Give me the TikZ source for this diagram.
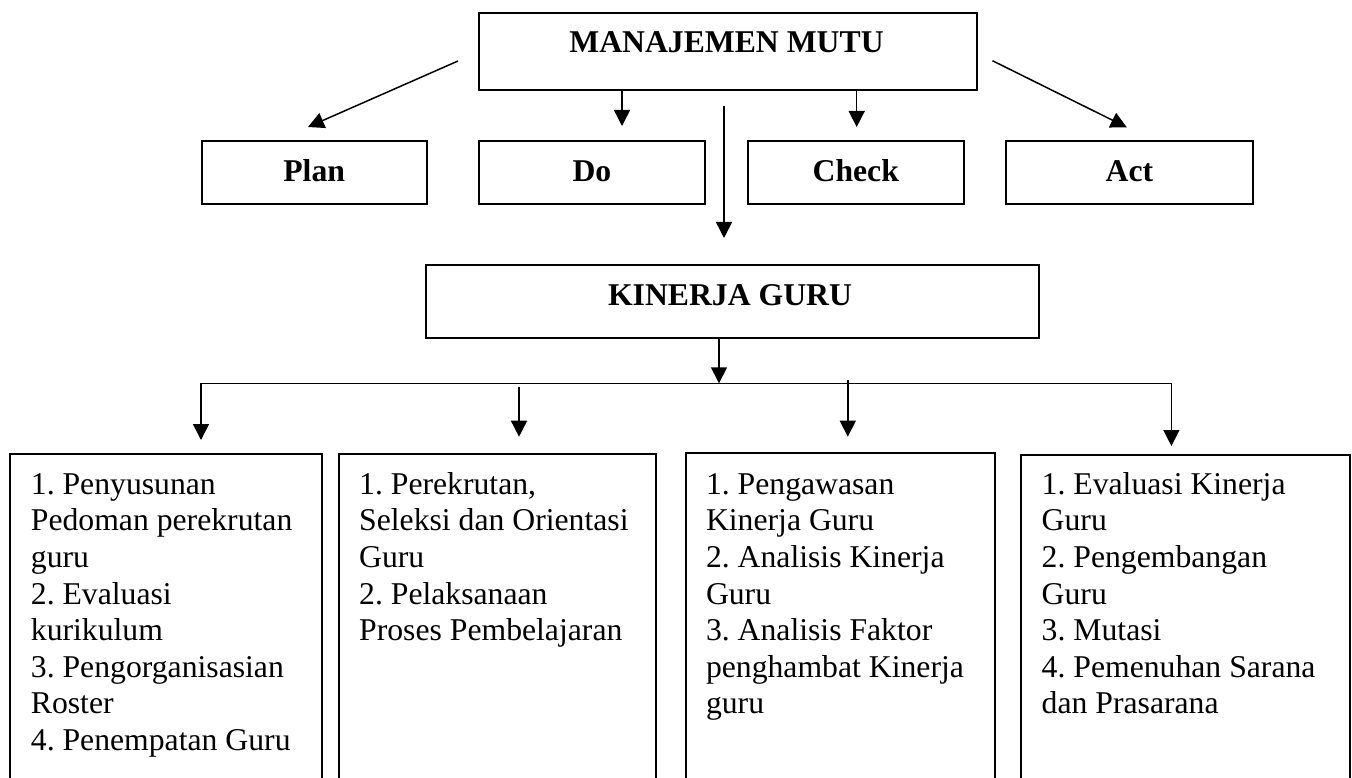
\documentclass[tikz,border=0pt]{standalone}
\usepackage{fontspec}
\setmainfont{Liberation Serif}
\usetikzlibrary{arrows.meta,calc}
\frenchspacing
\begin{document}
\begin{tikzpicture}[x=1pt,y=-1pt,
  box/.style={draw, line width=2pt, inner sep=0pt, anchor=north west},
  lbl/.style={font=\fontsize{31.7}{36.6}\selectfont\bfseries},
  pdca/.style={box, lbl, text height=19pt, text depth=0pt, minimum height=62.7pt},
  list/.style={anchor=north west, inner sep=0pt, align=left, font=\fontsize{31.7}{36.6}\selectfont\frenchspacing},
  arr/.style={line width=1.5pt, -{Triangle[width=16pt,length=16pt]}},
  barr/.style={line width=1.5pt, {Triangle[width=16pt,length=16pt]}-{Triangle[width=16pt,length=16pt]}},
]
\clip (0,0) rectangle (1352,778);
\fill[white] (0,0) rectangle (1352,778);

% boxes
\node[box, minimum width=497.5pt, minimum height=77pt] (mm) at (478,12.5) {};
\node[lbl, anchor=base] (mmt) at (726.5,53) {MANAJEMEN MUTU};

\node[pdca, minimum width=225pt] (plan) at (200.7,140) {Plan};
\node[pdca, minimum width=225.3pt] (do) at (478.3,140) {Do};
\node[pdca, minimum width=215.5pt] (check) at (747,140) {Check};
\node[pdca, minimum width=246.8pt] (act) at (1005,140) {Act};

\node[box, minimum width=613.4pt, minimum height=72.7pt] (kg) at (425,264) {};
\node[lbl, anchor=base] (kgt) at (730,305) {KINERJA GURU};

\node[box, minimum width=311.7pt, minimum height=347pt] (b1) at (9,452.7) {};
\node[box, minimum width=316.2pt, minimum height=347pt] (b2) at (338.3,452.7) {};
\node[box, minimum width=308.5pt, minimum height=347pt] (b3) at (685,452.3) {};
\node[box, minimum width=328.5pt, minimum height=347pt] (b4) at (1020,454) {};

\node[list] (l1) at (30.7,468.4) {\strut 1. Penyusunan\\Pedoman perekrutan\\guru\\2. Evaluasi\\kurikulum\\3. Pengorganisasian\\Roster\\4. Penempatan Guru};
\node[list] (l2) at (359,468.4) {\strut 1. Perekrutan,\\Seleksi dan Orientasi\\Guru\\2. Pelaksanaan\\Proses Pembelajaran};
\node[list] (l3) at (705.8,468.4) {\strut 1. Pengawasan\\Kinerja Guru\\2. Analisis Kinerja\\Guru\\3. Analisis Faktor\\penghambat Kinerja\\guru};
\node[list] (l4) at (1041.5,468.4) {\strut 1. Evaluasi Kinerja\\Guru\\2. Pengembangan\\Guru\\3. Mutasi\\4. Pemenuhan Sarana\\dan Prasarana};

% connectors
\coordinate (aPs) at (458,61);
\coordinate (aPe) at (308,127);
\draw[arr] (aPs) -- (aPe);
\coordinate (aDe) at (622,126);
\draw[arr] (mm.south -| aDe) -- (aDe);
\coordinate (aCe) at (856.7,127);
\draw[arr] (mm.south -| aCe) -- (aCe);
\coordinate (aAs) at (992.4,60.7);
\coordinate (aAe) at (1126.8,127.3);
\draw[arr] (aAs) -- (aAe);
\coordinate (aKs) at (724,106);
\coordinate (aKe) at (724,238);
\draw[arr] (aKs) -- (aKe);

\coordinate (bus) at (719,383.3);
\draw[arr] (kg.south -| bus) -- (bus);
\coordinate (bL) at (201,383.3);
\coordinate (bR) at (1171.4,383.3);
\coordinate (t1) at (201,440);
\coordinate (t4) at (1171.4,446);
\draw[barr] (t4) -- (bR) -- (bL) -- (t1);
\coordinate (s2) at (519,387.3);
\coordinate (t2) at (519,436.7);
\draw[arr] (s2) -- (t2);
\coordinate (s3) at (847.8,380);
\coordinate (t3) at (847.8,436.7);
\draw[arr] (s3) -- (t3);
\end{tikzpicture}
\end{document}
